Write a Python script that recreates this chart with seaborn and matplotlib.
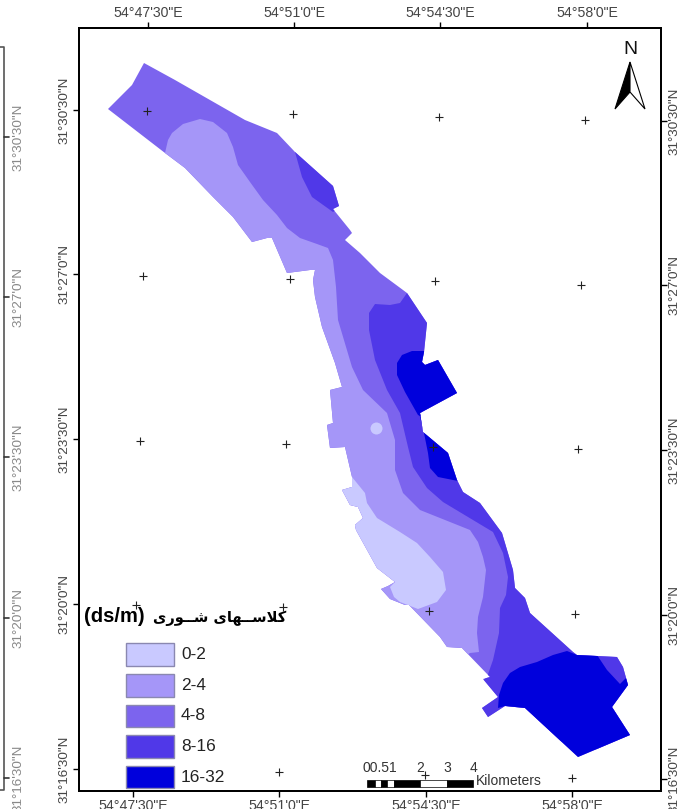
import matplotlib
matplotlib.use('Agg')
import matplotlib.pyplot as plt
import pandas as pd
import seaborn as sns
from matplotlib.patches import Polygon, Rectangle

# Map sheet units
outline_x = [108, 132, 144, 175, 210, 245, 277, 295, 333, 339, 333, 350, 352, 345, 360, 380, 403, 407, 427, 424, 422, 425, 438, 457, 420, 423, 448, 457, 463, 480, 502, 513, 515, 525, 530, 573, 577, 617, 623, 628, 612, 630, 578, 525, 505, 488, 482, 498, 483, 490, 462, 447, 440, 409, 405, 390, 381, 388, 395, 377, 356, 355, 363, 358, 350, 342, 352, 352, 345, 330, 327, 333, 330, 342, 335, 322, 315, 313, 315, 310, 287, 272, 267, 252, 233, 213, 185, 165]
outline_y = [109, 85, 63, 80, 100, 120, 133, 152, 186, 206, 209, 230, 233, 240, 253, 273, 290, 293, 323, 352, 362, 365, 360, 393, 413, 432, 453, 480, 492, 503, 533, 570, 588, 598, 613, 652, 655, 657, 667, 685, 707, 735, 757, 708, 706, 717, 708, 697, 679, 677, 648, 647, 637, 605, 605, 599, 589, 586, 582, 568, 530, 525, 518, 507, 505, 490, 487, 477, 447, 448, 425, 423, 390, 387, 363, 327, 297, 280, 270, 270, 273, 238, 238, 242, 217, 197, 168, 153]

class24_x = [160, 165, 168, 172, 183, 200, 213, 227, 233, 238, 250, 263, 277, 287, 300, 317, 328, 333, 336, 338, 352, 363, 387, 395, 395, 403, 420, 450, 470, 478, 483, 486, 483, 478, 477, 479, 470, 450, 380, 320, 300, 270, 180]
class24_y = [160, 153, 140, 133, 124, 119, 122, 133, 147, 165, 182, 200, 215, 228, 238, 244, 248, 260, 287, 320, 367, 390, 413, 440, 470, 493, 510, 522, 530, 542, 557, 570, 597, 617, 633, 652, 653, 665, 610, 500, 350, 280, 180]

class02_x = [352, 365, 367, 377, 400, 417, 430, 443, 446, 437, 418, 400, 394, 390, 395, 370, 330, 335]
class02_y = [477, 493, 503, 518, 532, 543, 557, 572, 590, 602, 609, 602, 597, 587, 582, 570, 520, 480]

class816a_x = [295, 302, 312, 333, 345, 340, 300]
class816a_y = [152, 177, 197, 212, 205, 175, 145]

class816b_x = [407, 400, 390, 375, 369, 369, 375, 387, 400, 408, 413, 427, 443, 473, 493, 503, 508, 506, 500, 499, 493, 487, 470, 470, 640, 650, 540, 520, 470, 440]
class816b_y = [293, 303, 305, 304, 313, 330, 360, 390, 413, 447, 467, 488, 502, 520, 532, 553, 577, 595, 608, 633, 660, 677, 690, 720, 760, 650, 590, 500, 400, 300]

class1632a_x = [397, 402, 412, 424, 430, 470, 470, 420, 418, 405, 397]
class1632a_y = [363, 355, 351, 351, 355, 355, 410, 416, 415, 392, 375]

class1632b_x = [419, 424, 428, 430, 438, 458, 470, 450, 430]
class1632b_y = [413, 433, 453, 468, 477, 481, 470, 430, 410]

class1632c_x = [499, 503, 510, 520, 537, 553, 567, 577, 597, 607, 620, 626, 635, 640, 578, 520, 505, 498]
class1632c_y = [695, 683, 673, 667, 662, 655, 651, 655, 655, 670, 684, 678, 690, 740, 765, 712, 706, 708]

# little 0-2 spot inside the 2-4 class
spot_x = [376]
spot_y = [428]

cross_x = [147, 293, 439, 585, 143, 290, 435, 581, 140, 286, 433, 578, 136, 283, 429, 575, 279, 425, 572]
cross_y = [111, 114, 117, 120, 276, 279, 281, 285, 441, 444, 447, 449, 605, 607, 611, 614, 772, 775, 778]

class_labels = ['0-2', '2-4', '4-8', '8-16', '16-32']
class_colors = ['#C9C9FF', '#A596F8', '#7C64EE', '#5038E8', '#0000DC']

top_ticks = [148, 294, 440, 587]
bottom_ticks = [133, 279, 426, 572]
left_ticks = [110, 274, 439, 604, 769]
right_ticks = [121, 285, 450, 615, 779]
lon_labels = ['54°47\'30"E', '54°51\'0"E', '54°54\'30"E', '54°58\'0"E']
lat_labels = ['31°30\'30"N', '31°27\'0"N', '31°23\'30"N', '31°20\'0"N', '31°16\'30"N']
stray_ticks = [137, 297, 457, 618, 778]

scale_edges = [367, 374.5, 381, 387, 394, 420, 447, 473]
scale_colors = ['black', 'white', 'black', 'white', 'black', 'white', 'black']
scale_labels = ['00.51', '2', '3', '4']
scale_label_x = [380, 420, 447, 473]

# visual order for matplotlib, it does no arabic shaping
title_fa = ('\uFBFC\uFEAD\uFEEE\u0640\u0640\uFEB7 '
            '\uFBFC\uFE8E\uFEEC\u0640\u0640\uFEB3\uFEFC\uFB90')

sns.set_theme(style='white')
plt.rcParams['font.family'] = ['Liberation Sans', 'DejaVu Sans']

fig = plt.figure(figsize=(6.88, 8.09), dpi=100)
ax = fig.add_axes([78.5 / 688, 1 - 791 / 809, (660.5 - 78.5) / 688, (791 - 28) / 809])
ax.set_xlim(78.5, 660.5)
ax.set_ylim(791, 28)

# salinity classes, base layer is 4-8 and the others are clipped to the outline
base = Polygon(list(zip(outline_x, outline_y)), closed=True, fc=class_colors[2], ec='none', zorder=1)
ax.add_patch(base)
layers = [
    (class24_x, class24_y, class_colors[1]),
    (class02_x, class02_y, class_colors[0]),
    (class816a_x, class816a_y, class_colors[3]),
    (class816b_x, class816b_y, class_colors[3]),
    (class1632a_x, class1632a_y, class_colors[4]),
    (class1632b_x, class1632b_y, class_colors[4]),
    (class1632c_x, class1632c_y, class_colors[4]),
]
for i, (xs, ys, col) in enumerate(layers):
    p = Polygon(list(zip(xs, ys)), closed=True, fc=col, ec='none', zorder=2 + i)
    ax.add_patch(p)
    p.set_clip_path(base)

spots = pd.DataFrame({'x': spot_x, 'y': spot_y})
sns.scatterplot(data=spots, x='x', y='y', ax=ax, s=75, color=class_colors[0], linewidth=0, zorder=10, legend=False)

crosses = pd.DataFrame({'x': cross_x, 'y': cross_y})
sns.scatterplot(data=crosses, x='x', y='y', ax=ax, marker='+', s=28, color='#222222', linewidth=0.8, zorder=11, legend=False)

ax.set_xlabel('')
ax.set_ylabel('')
ax.set_xticks(bottom_ticks)
ax.set_xticklabels(lon_labels)
ax.set_yticks(left_ticks)
ax.set_yticklabels(lat_labels, rotation=90, va='center')
ax.tick_params(axis='x', length=4, width=1, color='black', labelcolor='#444444', labelsize=10.2, pad=2, bottom=True)
ax.tick_params(axis='y', length=4, width=1, color='black', labelcolor='#444444', labelsize=9.7, pad=2, left=True)

ax_top = ax.twiny()
ax_top.set_xlim(ax.get_xlim())
ax_top.set_xticks(top_ticks)
ax_top.set_xticklabels(lon_labels)
ax_top.tick_params(axis='x', length=4, width=1, color='black', labelcolor='#444444', labelsize=10.2, pad=2, top=True)

ax_right = ax.twinx()
ax_right.set_ylim(ax.get_ylim())
ax_right.set_yticks(right_ticks)
ax_right.set_yticklabels(lat_labels, rotation=90, va='center')
ax_right.tick_params(axis='y', length=4, width=1, color='black', labelcolor='#444444', labelsize=9.7, pad=2, right=True)

for a in [ax, ax_top, ax_right]:
    for s in a.spines.values():
        s.set_visible(True)
        s.set_color('black')
        s.set_linewidth(1.2)

# legend
legend_top = [643, 674, 705, 735, 766]
legend_bottom = [666, 697, 727, 758, 788]
for col, lab, y0, y1 in zip(class_colors, class_labels, legend_top, legend_bottom):
    ax.add_patch(Rectangle((126, y0), 48, y1 - y0, fc=col, ec='#8A88B0', lw=1, zorder=12))
    ax.text(181, (y0 + y1) / 2, lab, fontsize=12.4, color='#222222', va='center', ha='left', zorder=13)
ax.text(84, 617, '(ds/m)', fontsize=14.5, fontweight='bold', color='black', va='center', ha='left', zorder=13)
ax.text(153, 618, title_fa, fontsize=10.5, fontweight='bold', color='black', va='center', ha='left', zorder=13,
        family=['DejaVu Sans'])

# north arrow
ax.add_patch(Polygon([(630, 62), (615, 109), (630, 92)], closed=True, fc='black', ec='black', lw=0.8, zorder=12))
ax.add_patch(Polygon([(630, 62), (645, 109), (630, 92)], closed=True, fc='white', ec='black', lw=0.8, zorder=12))
ax.text(630, 50, 'N', fontsize=14, color='#111111', ha='center', va='center', zorder=12)

# scale bar
for x0, x1, col in zip(scale_edges[:-1], scale_edges[1:], scale_colors):
    ax.add_patch(Rectangle((x0, 779.5), x1 - x0, 7, fc=col, ec='black', lw=0.5, zorder=12))
for x, lab in zip(scale_label_x, scale_labels):
    ax.text(x, 768, lab, fontsize=10, color='#333333', ha='center', va='center', zorder=12)
ax.text(476, 781, 'Kilometers', fontsize=10, color='#333333', ha='left', va='center', zorder=12)

# leftovers of a second frame at the left edge of the scan
ax.plot([0, 4, 4, 0], [47, 47, 790, 790], color='#555555', lw=1.2, clip_on=False, zorder=1)
for y, lab in zip(stray_ticks, lat_labels):
    ax.plot([4, 9], [y, y], color='#333333', lw=1.2, clip_on=False)
    ax.text(19, y, lab, fontsize=9.7, color='#888888', rotation=90, ha='center', va='center', clip_on=False)

ax.set_xlim(78.5, 660.5)
ax.set_ylim(791, 28)
fig.savefig('out.png', dpi=100)
